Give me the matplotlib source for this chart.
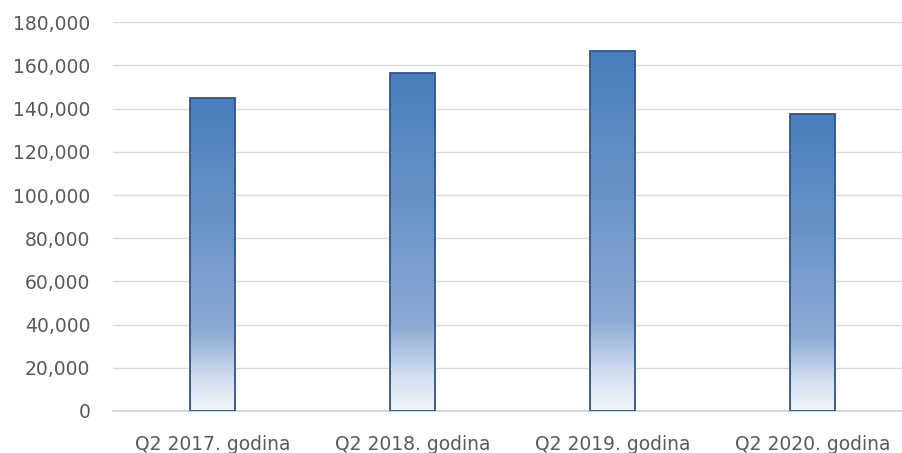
import numpy as np
import matplotlib
matplotlib.use("Agg")
import matplotlib.pyplot as plt
from matplotlib.colors import LinearSegmentedColormap
from matplotlib.ticker import FuncFormatter

# podaci
kategorije = ["Q2 2017. godina", "Q2 2018. godina", "Q2 2019. godina", "Q2 2020. godina"]
vrijednosti = [145000, 156600, 166700, 137400]
y_ticks = [0, 20000, 40000, 60000, 80000, 100000, 120000, 140000, 160000, 180000]

W, H = 903, 453
fig = plt.figure(figsize=(W / 100, H / 100), dpi=100)
left_px, right_px = 112.7, 903
bottom_px, top_px = 411, 22.3
ax = fig.add_axes([left_px / W, (H - bottom_px) / H,
                   (right_px - left_px) / W, (bottom_px - top_px) / H])

# gradijent: svijetlo dolje, plavo gore
cmap = LinearSegmentedColormap.from_list(
    "grad", [(0.0, "#f3f6fb"), (0.10, "#d3def0"), (0.25, "#8dabd5"),
             (0.6, "#6a94c9"), (1.0, "#4a7ebd")])
grad = np.linspace(0, 1, 256).reshape(-1, 1)

sirina = 0.225
x = np.arange(len(kategorije))
bars = ax.bar(x, vrijednosti, width=sirina, color="none",
              edgecolor="#2c5391", linewidth=1.3, zorder=3)
for b in bars:
    x0, w, h = b.get_x(), b.get_width(), b.get_height()
    im = ax.imshow(grad, extent=[x0, x0 + w, 0, h], origin="lower",
                   aspect="auto", cmap=cmap, zorder=2)
    im.set_clip_path(b)

ax.set_xlim(-0.5, (right_px - 212.7) / 200)
ax.set_ylim(0, 180000)
ax.set_xticks(x)
ax.set_xticklabels(kategorije)
ax.set_yticks(y_ticks)
ax.yaxis.set_major_formatter(FuncFormatter(lambda v, p: f"{int(v):,}"))

for s in ax.spines.values():
    s.set_visible(False)
ax.grid(axis="y", color="#d9d9d9", linewidth=1.0, zorder=0)
ax.axhline(0, color="#d0d0d0", linewidth=1.2, zorder=1, clip_on=False)
ax.set_axisbelow(True)
ax.tick_params(axis="both", length=0, labelsize=13.5, labelcolor="#595959")
ax.tick_params(axis="y", pad=16)
ax.tick_params(axis="x", pad=17)

fig.savefig("out.png", dpi=100)
